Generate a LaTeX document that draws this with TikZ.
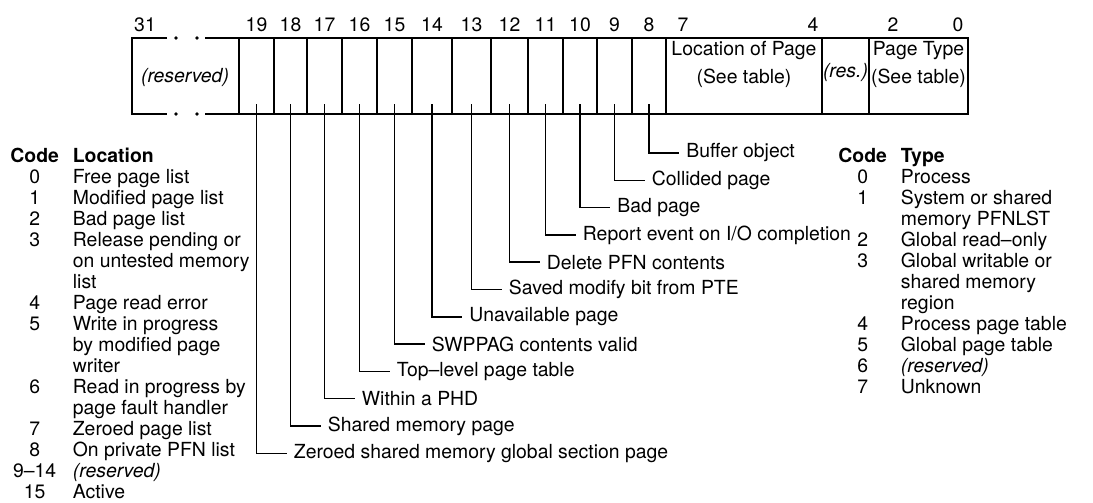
\documentclass[tikz,border=0pt]{standalone}
\usepackage{fontspec}
\setmainfont{TeX Gyre Heros}
\usetikzlibrary{positioning}

\tikzset{
  regline/.style={line width=0.9pt},
  leader/.style={line width=0.75pt},
  bitnum/.style={inner sep=0pt},
  fieldtext/.style={align=center,inner sep=0pt,font=\fontsize{9.7}{14}\selectfont},
  flaglabel/.style={anchor=west,inner xsep=3.5pt,inner ysep=0pt},
  codetable/.style={anchor=north west,inner sep=0pt}
}

\begin{document}
\fontsize{9.7}{10.5}\selectfont
\begin{tikzpicture}[x=0.5pt,y=-0.5pt]
			\useasboundingbox (0,0) rectangle (1093,503);
			% the register outline, broken over the reserved bits
			\draw[regline] (167,38) -- (132,38) -- (132,114) -- (167,114);
			\draw[regline] (205,38) -- (968,38) -- (968,114) -- (205,114);
			\fill (176,38) circle (0.9pt) (197,38) circle (0.9pt);
			\fill (176,114) circle (0.9pt) (197,114) circle (0.9pt);
			\node[bitnum] (n31) at (145,25) {31};
			\node[font=\itshape] (rsv) at (185,77) {(reserved)};
			% one-bit flags
			\foreach \b/\l/\r in {19/239/274,18/274/307,17/307/342,16/342/377,15/377/412,14/412/452,
			                      13/452/491,12/491/528,11/528/563,10/563/597,9/597/632,8/632/666}{
				\draw[regline] (\l,38) -- (\l,114);
				\node[bitnum] (n\b) at ({(\l+\r)/2},25) {\b};
				\coordinate (c\b) at ({(\l+\r)/2},104);
			}
			% wider fields
			\draw[regline] (666,38) -- (666,114);
			\draw[regline] (822,38) -- (822,114);
			\draw[regline] (869,38) -- (869,114);
			\node[bitnum] (n7) at (683,25) {7};
			\node[bitnum] (n4) at (813,25) {4};
			\node[bitnum] (n2) at (893,25) {2};
			\node[bitnum] (n0) at (958,25) {0};
			\node[fieldtext] (loc) at (744,64) {Location of Page\\(See table)};
			\node[font=\itshape,inner sep=0pt] (res) at (845.5,72) {(res.)};
			\node[fieldtext] (typ) at (918.5,64) {Page Type\\(See table)};
			% flag names
			\node[flaglabel] (buf) at (679,153) {Buffer object};
			\node[flaglabel] (col) at (644.5,180.3) {Collided page};
			\node[flaglabel] (bad) at (610,207.6) {Bad page};
			\node[flaglabel] (rep) at (575.5,234.9) {Report event on I/O completion};
			\node[flaglabel] (del) at (539.5,262.2) {Delete PFN contents};
			\node[flaglabel] (mod) at (501.5,289.5) {Saved modify bit from PTE};
			\node[flaglabel] (una) at (462,316.8) {Unavailable page};
			\node[flaglabel] (swp) at (424.5,344.1) {SWPPAG contents valid};
			\node[flaglabel] (top) at (389.5,371.4) {Top--level page table};
			\node[flaglabel] (phd) at (354.5,398.7) {Within a PHD};
			\node[flaglabel] (shm) at (320.5,426) {Shared memory page};
			\node[flaglabel] (zer) at (286.5,453.3) {Zeroed shared memory global section page};
			\foreach \b/\n in {8/buf,9/col,10/bad,11/rep,12/del,13/mod,14/una,15/swp,16/top,17/phd,18/shm,19/zer}
				\draw[leader] (c\b) |- (\n);
			% code tables
			\node[codetable] (loctab) at (10,147) {%
				\begin{tabular}{@{}c@{\hspace{7pt}}l@{}}
				\textbf{Code} & \textbf{Location}\\
				0 & Free page list\\
				1 & Modified page list\\
				2 & Bad page list\\
				3 & Release pending or\\
				  & on untested memory\\
				  & list\\
				4 & Page read error\\
				5 & Write in progress\\
				  & by modified page\\
				  & writer\\
				6 & Read in progress by\\
				  & page fault handler\\
				7 & Zeroed page list\\
				8 & On private PFN list\\
				9--14 & \textit{(reserved)}\\
				15 & Active
				\end{tabular}};
			\node[codetable] (typtab) at (838,147) {%
				\begin{tabular}{@{}c@{\hspace{7pt}}l@{}}
				\textbf{Code} & \textbf{Type}\\
				0 & Process\\
				1 & System or shared\\
				  & memory PFNLST\\
				2 & Global read--only\\
				3 & Global writable or\\
				  & shared memory\\
				  & region\\
				4 & Process page table\\
				5 & Global page table\\
				6 & \textit{(reserved)}\\
				7 & Unknown
				\end{tabular}};
		\end{tikzpicture}
\end{document}
